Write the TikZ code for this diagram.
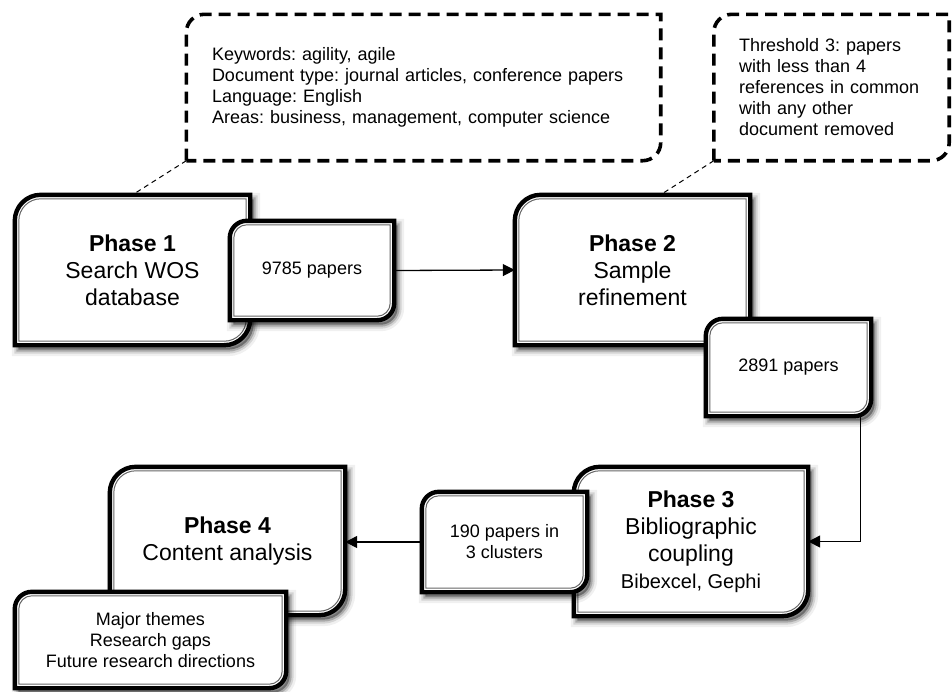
\documentclass[tikz,border=0pt]{standalone}
\usepackage{fontspec}
\setmainfont{Liberation Sans}
\usetikzlibrary{arrows.meta}
\pgfdeclarelayer{bg}
\pgfsetlayers{bg,main}
\frenchspacing

\newcommand\boxshape[3]{([shift={(#3,#3)}]#1.south west) -- ([shift={(#3,-#2)}]#1.north west) arc[start angle=180,end angle=90,radius=#2-#3] -- ([shift={(-#3,-#3)}]#1.north east) -- ([shift={(-#3,#2)}]#1.south east) arc[start angle=0,end angle=-90,radius=#2-#3] -- cycle}

\newcommand\fancy[2]{%
 \begin{pgfonlayer}{bg}
  \begin{scope}[transform canvas={shift={(3.5pt,-4.5pt)}}]
   \fill[black,opacity=0.35] \boxshape{#1}{#2}{0pt};
   \draw[black,opacity=0.2,line width=4pt] \boxshape{#1}{#2}{0pt};
   \draw[black,opacity=0.12,line width=8pt] \boxshape{#1}{#2}{0pt};
   \draw[black,opacity=0.06,line width=13pt] \boxshape{#1}{#2}{0pt};
  \end{scope}
  \fill[white] \boxshape{#1}{#2}{0pt};
  \draw[line width=4.4pt] \boxshape{#1}{#2}{0pt};
  \draw[black!60,line width=1pt] \boxshape{#1}{#2}{4pt};
 \end{pgfonlayer}}

\newcommand\callout[2]{%
 \begin{pgfonlayer}{bg}
  \fill[white] \boxshape{#1}{#2}{0pt};
  \draw[line width=3.6pt,dash pattern=on 12pt off 7pt] \boxshape{#1}{#2}{0pt};
 \end{pgfonlayer}}

\tikzset{
  phasebox/.style={inner sep=0pt,align=center,font=\fontsize{23}{27}\selectfont},
  smallbox/.style={inner sep=0pt,align=center,font=\fontsize{18}{21}\selectfont},
  notebox/.style={inner sep=0pt,align=left,font=\fontsize{18}{21}\selectfont},
  conn/.style={line width=1.3pt,-{Triangle[length=12pt,width=12pt]}},
  tail/.style={line width=1pt,dash pattern=on 5pt off 4pt}
}

\begin{document}
\begin{tikzpicture}[x=1pt,y=1pt]
\useasboundingbox (0,0) rectangle (952,-691);

% callouts
\node[notebox,minimum width=474pt,minimum height=146pt,text width=423pt] (c1) at (423.5,-87.5)
  {Keywords: agility, agile\\Document type: journal articles, conference papers\\Language: English\\Areas: business, management, computer science};
\callout{c1}{18pt}
\node[notebox,minimum width=235pt,minimum height=146pt,text width=185pt] (c2) at (831.5,-87.5)
  {Threshold 3: papers\\with less than 4\\references in common\\with any other\\document removed};
\callout{c2}{18pt}

% phase 1 and count
\node[phasebox,minimum width=235pt,minimum height=150pt] (p1) at (132.5,-270)
  {\textbf{Phase 1}\\Search WOS\\database};
\fancy{p1}{26pt}
\node[smallbox,minimum width=164pt,minimum height=99pt] (n9785) at (312,-270.5) {9785 papers};
\fancy{n9785}{17pt}

% phase 2
\node[phasebox,minimum width=235pt,minimum height=150pt] (p2) at (632.5,-270)
  {\textbf{Phase 2}\\Sample\\refinement};
\fancy{p2}{26pt}
\node[smallbox,minimum width=165pt,minimum height=97pt] (n2891) at (788.5,-367.5) {2891 papers};
\fancy{n2891}{17pt}

% phase 3
\node[phasebox,minimum width=234pt,minimum height=149pt] (p3) at (691,-541.5)
  {\textbf{Phase 3}\\Bibliographic\\coupling\\{\fontsize{20}{24}\selectfont Bibexcel, Gephi}};
\fancy{p3}{26pt}
\node[smallbox,minimum width=165pt,minimum height=100pt] (n190) at (504.5,-542) {190 papers in\\3 clusters};
\fancy{n190}{17pt}

% phase 4
\node[phasebox,minimum width=235pt,minimum height=148pt] (p4) at (227.5,-541)
  {\textbf{Phase 4}\\Content analysis};
\fancy{p4}{26pt}
\node[smallbox,minimum width=271pt,minimum height=96pt] (themes) at (150.5,-640)
  {Major themes\\Research gaps\\Future research directions};
\fancy{themes}{17pt}

% callout tails
\draw[tail] (c1.south west) -- (p1.north);
\draw[tail] (c2.south west) -- ([xshift=28pt]p2.north);

% connectors
\draw[conn] (n9785.east) -- (p2.west);
\draw[conn] ([xshift=-11pt]n2891.south east) |- (p3.east);
\draw[conn] (n190.west) -- (n190.west -| p4.east);
\end{tikzpicture}
\end{document}
